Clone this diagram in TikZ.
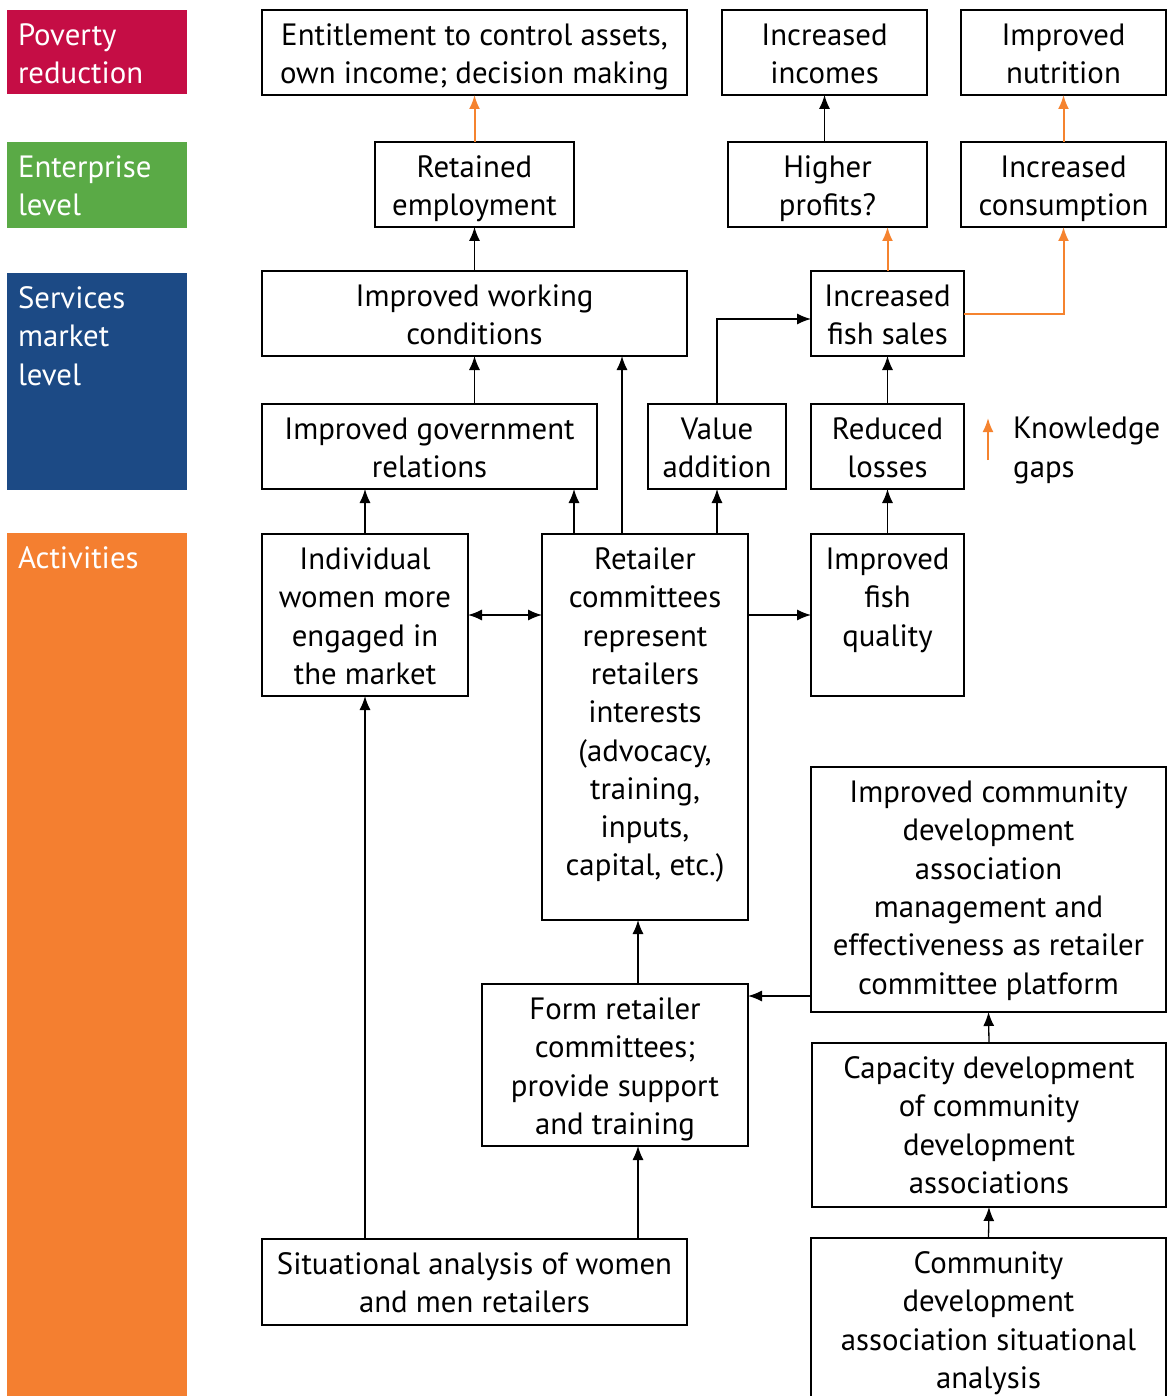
\documentclass[tikz,border=0pt]{standalone}
\usepackage{fontspec}
\setmainfont{PT Sans}
\usetikzlibrary{arrows.meta}
\definecolor{povc}{HTML}{C50D45}
\definecolor{entc}{HTML}{5AAA46}
\definecolor{svcc}{HTML}{1C4A85}
\definecolor{actc}{HTML}{F47F30}
\definecolor{kgc}{HTML}{F5832F}
\newcommand\mkbox[6]{\node[boxst] (#1) at ({(#2+#4)/2},{(#3+#5)/2}) {\parbox[c][\dimexpr#5pt-#3pt\relax][t]{\dimexpr#4pt-#2pt\relax}{\centering\rule{0pt}{35.5pt}#6}};}
\newcommand\mkband[5]{\node[bandst, fill=#2] (#1) at (97,{(#3+#4)/2}) {\parbox[c][\dimexpr#4pt-#3pt\relax][t]{180pt}{\raggedright\leftskip=11pt\rule{0pt}{35.5pt}#5}};}
\begin{document}
\begin{tikzpicture}[x=1pt,y=-1pt,
  font=\fontsize{30.8}{38.3}\selectfont,
  boxst/.style={draw=black, line width=1.3pt, inner sep=0pt, outer sep=0pt},
  bandst/.style={inner sep=0pt, outer sep=0pt, text=white},
  barr/.style={draw=black, line width=1.3pt, -{Latex[length=14pt,width=11pt]}},
  oarr/.style={draw=kgc, line width=2pt, -{Latex[length=14pt,width=11pt]}},
  darr/.style={draw=black, line width=1.3pt, {Latex[length=14pt,width=11pt]}-{Latex[length=14pt,width=11pt]}}]
\useasboundingbox (0,0) rectangle (1168,1396);
\clip (0,0) rectangle (1168,1396);
% bands
\mkband{pov}{povc}{10}{94}{Poverty\\reduction}
\mkband{ent}{entc}{142}{228}{Enterprise\\level}
\mkband{svc}{svcc}{273}{490}{Services\\market\\level}
\mkband{act}{actc}{533}{1400}{Activities}
% boxes
\mkbox{entit}{262}{10}{687}{95}{Entitlement to control assets,\\own income; decision making}
\mkbox{inc}{722}{10}{927}{95}{Increased\\incomes}
\mkbox{nut}{961}{10}{1166}{95}{Improved\\nutrition}
\mkbox{ret}{375}{142}{574}{227}{Retained\\employment}
\mkbox{hp}{728}{142}{927}{227}{Higher\\profits?}
\mkbox{cons}{961}{142}{1166}{227}{Increased\\consumption}
\mkbox{wc}{262}{271}{687}{356}{Improved working\\conditions}
\mkbox{fs}{811}{271}{964}{356}{Increased\\fish sales}
\mkbox{gov}{262}{404}{597}{489}{Improved government\\relations}
\mkbox{va}{648}{404}{786}{489}{Value\\addition}
\mkbox{rl}{811}{404}{964}{489}{Reduced\\losses}
\mkbox{iw}{262}{534}{468}{696}{Individual\\women more\\engaged in\\the market}
\mkbox{rc}{542}{534}{748}{920}{Retailer\\committees\\represent\\retailers\\interests\\(advocacy,\\training,\\inputs,\\capital, etc.)}
\mkbox{fq}{811}{534}{964}{696}{Improved\\fish\\quality}
\mkbox{icd}{811}{767}{1166}{1012}{Improved community\\development\\association\\management and\\effectiveness as retailer\\committee platform}
\mkbox{form}{482}{984}{748}{1146}{Form retailer\\committees;\\provide support\\and training}
\mkbox{cap}{812}{1043}{1166}{1207}{Capacity development\\of community\\development\\associations}
\mkbox{sit}{262}{1239}{687}{1325}{Situational analysis of women\\and men retailers}
\mkbox{cda}{811}{1238}{1166}{1410}{Community\\development\\association situational\\analysis}
% legend
\node[inner sep=0pt, anchor=north west] (kgtext) at (1013,403) {\parbox[t]{160pt}{\raggedright\rule{0pt}{35.5pt}Knowledge\\gaps}};
\coordinate (kgs) at (988,460);
\coordinate (kge) at (988,418);
\draw[oarr] (kgs) -- (kge);
% column coordinates
\coordinate (x622) at (622,0);
\coordinate (x574) at (574,0);
\coordinate (x638) at (638,0);
\coordinate (y996) at (0,996);
% connectors
\draw[oarr] (ret.north -| entit.south) -- (entit.south);
\draw[barr] (hp.north -| inc.south) -- (inc.south);
\draw[oarr] (cons.north) -- (nut.south);
\draw[barr] (wc.north) -- (ret.south -| wc.north);
\draw[oarr] (fs.north) -- (hp.south -| fs.north);
\draw[oarr] (fs.east) -| (cons.south);
\draw[barr] (gov.north -| wc.south) -- (wc.south);
\draw[barr] (rc.north -| x622) -- (wc.south -| x622);
\draw[barr] (va.north) |- ([yshift=-5.5pt]fs.west);
\draw[barr] (rl.north) -- (fs.south);
\draw[barr] (iw.north) -- (gov.south -| iw.north);
\draw[barr] (rc.north -| x574) -- (gov.south -| x574);
\draw[barr] (rc.north -| va.south) -- (va.south);
\draw[barr] (fq.north) -- (rl.south);
\draw[darr] (iw.east) -- (rc.west |- iw.east);
\draw[barr] (rc.east |- iw.east) -- (fq.west |- iw.east);
\draw[barr] (form.north -| x638) -- (rc.south -| x638);
\draw[barr] (icd.west |- y996) -- (form.east |- y996);
\draw[barr] (cap.north) -- (icd.south);
\draw[barr] (cda.north) -- (cap.south);
\draw[barr] (sit.north -| iw.south) -- (iw.south);
\draw[barr] (sit.north -| x638) -- (form.south -| x638);
\end{tikzpicture}
\end{document}
